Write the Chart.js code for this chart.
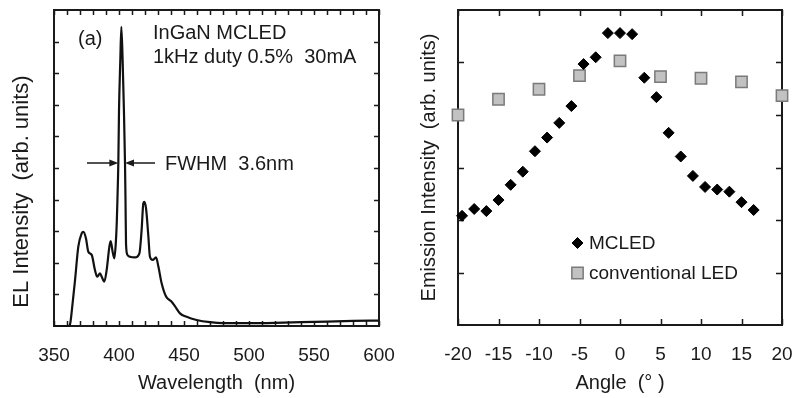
<!DOCTYPE html>
<html><head><meta charset="utf-8">
<script src="https://cdn.jsdelivr.net/npm/chart.js@4"></script>
<style>
html,body{margin:0;padding:0;background:#fff;}
body{width:794px;height:398px;overflow:hidden;position:relative;}
#ca{position:absolute;left:0;top:0;}
#cb{position:absolute;left:400px;top:0;}
</style></head><body>
<canvas id="ca" width="400" height="398"></canvas>
<canvas id="cb" width="394" height="398"></canvas>
<script>
// ---- Panel (a): EL spectrum ----
const wavelength = [350,361,362.3,364,366.2,368.7,371.3,372.6,374.6,376.4,379,381.5,383.3,385.4,386.7,388.7,390.5,392.6,393.6,395.1,396.4,397.5,398.3,398.8,399.5,400,401,401.8,402.8,403.8,404.6,405.0,405.4,406.5,408.5,412.3,415.7,417.4,418.7,419.5,420.8,422.6,423.8,425.9,428.5,430.3,432.8,436.2,440.5,443,446.9,452,459.7,470,480,500,520,540,560,580,600];
const elIntensity = [0,0,0.05,0.6,1.46,2.51,2.93,2.98,2.77,2.35,2.25,1.77,1.56,1.67,1.56,1.40,1.77,2.51,2.69,2.35,2.14,2.6,3.3,4.0,5.2,6.8,8.4,9.47,8.4,6.8,5.2,4.0,2.6,2.25,2.19,2.17,2.30,3.04,3.88,3.93,3.72,2.83,2.19,2.09,2.17,1.88,1.35,0.93,0.77,0.63,0.40,0.29,0.19,0.12,0.09,0.09,0.10,0.12,0.14,0.16,0.17];
const wavelengthTickLabels = [350,400,450,500,550,600];
const wavelengthMinorStep = 10;
const elTickValues = [1,2,3,4,5,6,7,8,9];
const fwhmEdges = [399.5, 404.6];

// ---- Panel (b): angular emission ----
const angleMCLED = [-19.5,-18,-16.5,-15,-13.5,-12,-10.5,-9,-7.5,-6,-4.5,-3,-1.5,0,1.5,3,4.5,6,7.5,9,10.5,12,13.5,15,16.5];
const intensityMCLED = [2.08,2.21,2.17,2.38,2.67,2.92,3.31,3.57,3.85,4.17,4.97,5.10,5.56,5.56,5.54,4.71,4.34,3.66,3.21,2.84,2.63,2.58,2.54,2.34,2.19];
const angleConv = [-20,-15,-10,-5,0,5,10,15,20];
const intensityConv = [4.0,4.30,4.49,4.75,5.03,4.73,4.70,4.63,4.37];
const angleTickLabels = [-20,-15,-10,-5,0,5,10,15,20];
const emissionTickValues = [1,2,3,4,5];

const FONT = "'Liberation Sans', Arial, Helvetica, sans-serif";
Chart.defaults.font.family = FONT;
Chart.defaults.color = '#1a1a1a';

const range = (a,b,s)=>{const r=[];for(let v=a;v<=b+1e-9;v+=s)r.push(v);return r;};

const framePlugin = {
  id: 'frame',
  beforeDatasetsDraw(chart, args, opts) {
    const {ctx, chartArea: a, scales: {x, y}} = chart;
    ctx.save();
    ctx.strokeStyle = '#1a1a1a';
    ctx.lineWidth = 1.5;
    const L = opts.len;
    ctx.beginPath();
    opts.xTicks.forEach(v => {
      const px = Math.round(x.getPixelForValue(v)) + 0.5;
      ctx.moveTo(px, a.bottom); ctx.lineTo(px, a.bottom - L);
      ctx.moveTo(px, a.top); ctx.lineTo(px, a.top + L);
    });
    opts.yTicks.forEach(v => {
      const py = Math.round(y.getPixelForValue(v)) + 0.5;
      ctx.moveTo(a.left, py); ctx.lineTo(a.left + L, py);
      ctx.moveTo(a.right, py); ctx.lineTo(a.right - L, py);
    });
    ctx.stroke();
    ctx.lineWidth = 2;
    ctx.strokeRect(a.left, a.top, a.right - a.left, a.bottom - a.top);
    ctx.restore();
  }
};

const annotA = {
  id: 'annotA',
  afterDraw(chart) {
    const {ctx, scales: {x}} = chart;
    ctx.save();
    ctx.fillStyle = '#1a1a1a';
    ctx.strokeStyle = '#1a1a1a';
    ctx.textBaseline = 'alphabetic';
    ctx.font = '20px ' + FONT;
    ctx.fillText('(a)', 78, 45);
    ctx.fillText('InGaN MCLED', 153, 39);
    ctx.fillText('1kHz duty 0.5%  30mA', 153, 63);
    ctx.fillText('FWHM  3.6nm', 165, 170);
    const yA = 163;
    const xl = x.getPixelForValue(fwhmEdges[0]);
    const xr = x.getPixelForValue(fwhmEdges[1]);
    ctx.lineWidth = 1.5;
    ctx.beginPath();
    ctx.moveTo(87, yA); ctx.lineTo(xl - 6, yA);
    ctx.moveTo(155, yA); ctx.lineTo(xr + 6, yA);
    ctx.stroke();
    ctx.beginPath();
    ctx.moveTo(xl, yA); ctx.lineTo(xl - 9, yA - 3.5); ctx.lineTo(xl - 9, yA + 3.5); ctx.closePath();
    ctx.moveTo(xr, yA); ctx.lineTo(xr + 9, yA - 3.5); ctx.lineTo(xr + 9, yA + 3.5); ctx.closePath();
    ctx.fill();
    ctx.restore();
  }
};

const legendB = {
  id: 'legendB',
  afterDraw(chart) {
    const {ctx} = chart;
    chart.data.datasets.forEach((ds, i) => {
      const cx = 177.5, cy = 243 + i * 30;
      ctx.save();
      ctx.fillStyle = ds.backgroundColor;
      ctx.strokeStyle = ds.borderColor;
      ctx.lineWidth = ds.borderWidth;
      Chart.helpers.drawPoint(ctx, {pointStyle: ds.pointStyle, radius: ds.pointRadius, borderWidth: ds.borderWidth, rotation: 0}, cx, cy);
      ctx.font = '19px ' + FONT;
      ctx.textBaseline = 'middle';
      ctx.fillStyle = '#1a1a1a';
      ctx.fillText(ds.label, 189, cy + 1);
      ctx.restore();
    });
  }
};

const noPad = s => { s.paddingLeft = 0; s.paddingRight = 0; };

new Chart(document.getElementById('ca'), {
  type: 'line',
  data: {
    datasets: [{
      data: wavelength.map((w, i) => ({x: w, y: elIntensity[i]})),
      borderColor: '#111',
      borderWidth: 2.2,
      pointRadius: 0,
      fill: false,
      cubicInterpolationMode: 'monotone',
      clip: 4
    }]
  },
  options: {
    responsive: false,
    animation: false,
    devicePixelRatio: 1,
    layout: {padding: {left: 0, top: 10, right: 21, bottom: 0}},
    plugins: {legend: {display: false}, tooltip: {enabled: false},
      frame: {len: 5, xTicks: range(350, 600, wavelengthMinorStep), yTicks: elTickValues}},
    scales: {
      x: {
        type: 'linear', min: 350, max: 600,
        afterBuildTicks: s => { s.ticks = wavelengthTickLabels.map(v => ({value: v})); },
        grid: {display: false, drawTicks: false}, border: {display: false},
        ticks: {font: {size: 19}, padding: 18, color: '#1a1a1a', maxRotation: 0},
        title: {display: true, text: 'Wavelength  (nm)', font: {size: 20}, padding: {top: 0, bottom: 3}, color: '#1a1a1a'},
        afterFit: s => { s.height = 72; noPad(s); }
      },
      y: {
        type: 'linear', min: 0, max: 10,
        grid: {display: false, drawTicks: false}, border: {display: false},
        ticks: {display: false},
        title: {display: true, text: '   EL Intensity  (arb. units)', align: 'start', font: {size: 22}, padding: {top: 9, bottom: 0}, color: '#1a1a1a'},
        afterFit: s => { s.width = 54; }
      }
    }
  },
  plugins: [framePlugin, annotA]
});

new Chart(document.getElementById('cb'), {
  type: 'scatter',
  data: {
    datasets: [{
      label: 'MCLED',
      data: angleMCLED.map((a, i) => ({x: a, y: intensityMCLED[i]})),
      pointStyle: 'rectRot', pointRadius: 5.5,
      backgroundColor: '#000', borderColor: '#000', borderWidth: 1,
      clip: false, order: 0
    }, {
      label: 'conventional LED',
      data: angleConv.map((a, i) => ({x: a, y: intensityConv[i]})),
      pointStyle: 'rect', pointRadius: 8,
      backgroundColor: '#c2c2c2', borderColor: '#7a7a7a', borderWidth: 1.5,
      clip: false, order: 1
    }]
  },
  options: {
    responsive: false,
    animation: false,
    devicePixelRatio: 1,
    layout: {padding: {left: 0, top: 10, right: 12, bottom: 0}},
    plugins: {legend: {display: false}, tooltip: {enabled: false},
      frame: {len: 6, xTicks: angleTickLabels, yTicks: emissionTickValues}},
    scales: {
      x: {
        type: 'linear', min: -20, max: 20,
        afterBuildTicks: s => { s.ticks = angleTickLabels.map(v => ({value: v})); },
        grid: {display: false, drawTicks: false}, border: {display: false},
        ticks: {font: {size: 19}, padding: 18, color: '#1a1a1a', maxRotation: 0},
        title: {display: true, text: 'Angle  (° )', font: {size: 20}, padding: {top: 0, bottom: 3}, color: '#1a1a1a'},
        afterFit: s => { s.height = 73; noPad(s); }
      },
      y: {
        type: 'linear', min: 0, max: 6,
        grid: {display: false, drawTicks: false}, border: {display: false},
        ticks: {display: false},
        title: {display: true, text: 'Emission Intensity  (arb. units)', font: {size: 20}, padding: {top: 17, bottom: 0}, color: '#1a1a1a'},
        afterFit: s => { s.width = 58; }
      }
    }
  },
  plugins: [framePlugin, legendB]
});
</script>
</body></html>
